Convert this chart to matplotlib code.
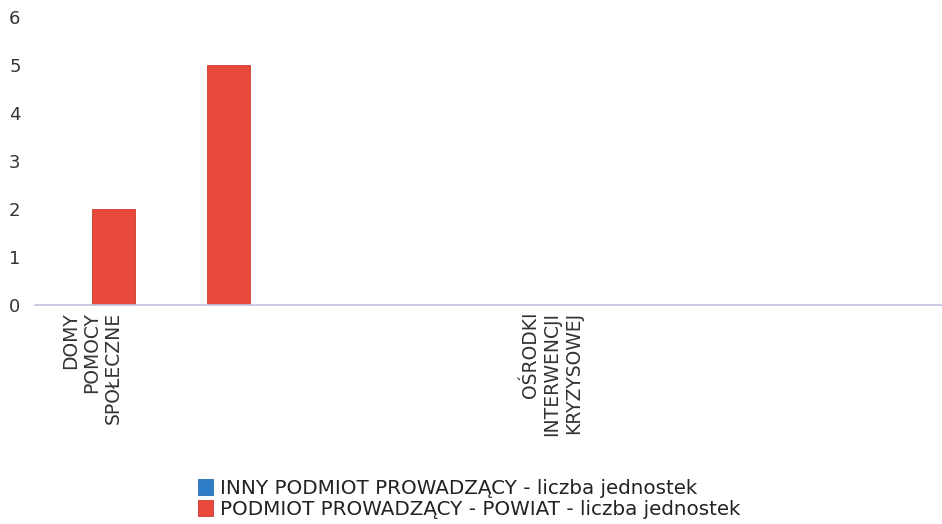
import matplotlib.pyplot as plt
import numpy as np

categories = ["DOMY\nPOMOCY\nSPOŁECZNE", "", "", "", "OŚRODKI\nINTERWENCJI\nKRYZYSOWEJ", "", "", ""]
inny = [0, 0, 0, 0, 0, 0, 0, 0]
powiat = [2, 5, 0, 0, 0, 0, 0, 0]
series_names = ["INNY PODMIOT PROWADZĄCY - liczba jednostek",
                "PODMIOT PROWADZĄCY - POWIAT - liczba jednostek"]
yticks = [0, 1, 2, 3, 4, 5, 6]

fig = plt.figure(figsize=(9.42, 5.24), dpi=100)
ax = fig.add_axes([34.5 / 942, 219 / 524, 1 - 34.5 / 942, 288 / 524])

x = np.arange(len(categories))
w = 0.375
b1 = ax.bar(x - w / 2, inny, w, color="#2f7ec8", edgecolor="#2a6db0", linewidth=0.6)
b2 = ax.bar(x + w / 2, powiat, w, color="#e8493b", edgecolor="#c93a2c", linewidth=0.6)

ax.set_xlim(-0.5, 7.39)
ax.set_ylim(0, 6)
ax.set_yticks(yticks)
ax.tick_params(axis="y", length=0, pad=10, labelsize=13, labelcolor="#333333")
ax.set_xticks(x)
ax.set_xticklabels(categories, rotation=90, fontsize=13.5, color="#333333",
                   multialignment="right", va="top", ha="center", linespacing=1.15)
ax.tick_params(axis="x", length=0, pad=5)

for s in ["top", "right", "left"]:
    ax.spines[s].set_visible(False)
ax.spines["bottom"].set_color("#c0c0e0")
ax.spines["bottom"].set_linewidth(1.2)

fig.legend([b1, b2], series_names, loc="upper left", bbox_to_anchor=(188 / 942, 1 - 469 / 524),
           frameon=False, fontsize=14.3, handlelength=0.75, handleheight=0.85,
           handletextpad=0.35, labelspacing=0.1, borderpad=0, labelcolor="#222222")

fig.savefig("out.png", dpi=100)
